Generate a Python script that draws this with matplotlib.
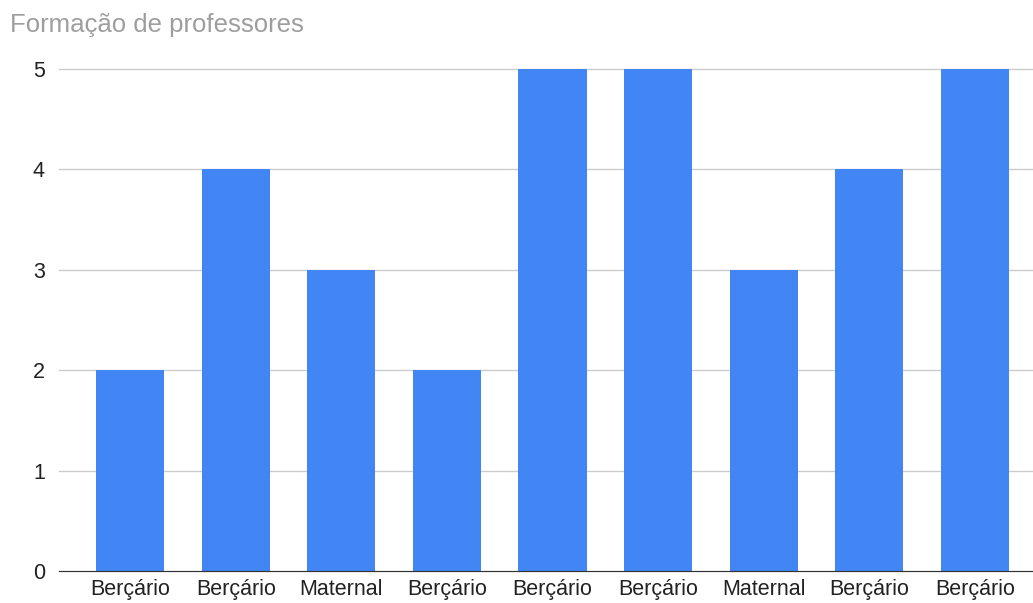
import matplotlib

matplotlib.use("Agg")
import matplotlib.pyplot as plt

categories = ["Berçário", "Berçário", "Maternal", "Berçário", "Berçário",
              "Berçário", "Maternal", "Berçário", "Berçário"]
values = [2, 4, 3, 2, 5, 5, 3, 4, 5]
yticks = [0, 1, 2, 3, 4, 5]

plt.rcParams["font.family"] = ["Liberation Sans", "DejaVu Sans"]

fig = plt.figure(figsize=(10.33, 6.03), dpi=100)
ax = fig.add_axes([0.057, 0.053, 0.943, 0.8326])

x = range(len(values))
ax.bar(x, values, width=0.645, color="#4285F4", zorder=3)

ax.set_xlim(-0.675, len(values) - 0.45)
ax.set_ylim(0, 5)
ax.set_yticks(yticks)
ax.set_yticklabels([str(v) for v in yticks], fontsize=15.5, color="#222222")
ax.set_xticks(list(x))
ax.set_xticklabels(categories, fontsize=15.5, color="#222222")
ax.tick_params(length=0, pad=6)
ax.tick_params(axis="y", pad=10)

ax.grid(axis="y", color="#cccccc", linewidth=1, zorder=0)
for s in ["top", "right", "left"]:
    ax.spines[s].set_visible(False)
ax.spines["bottom"].set_color("#333333")
ax.spines["bottom"].set_zorder(4)
for gl in ax.get_ygridlines():
    gl.set_clip_on(False)

fig.text(0.0097, 0.958, "Formação de professores", fontsize=18.5,
         color="#9e9e9e", ha="left", va="center")

fig.savefig("out.png", dpi=100)
